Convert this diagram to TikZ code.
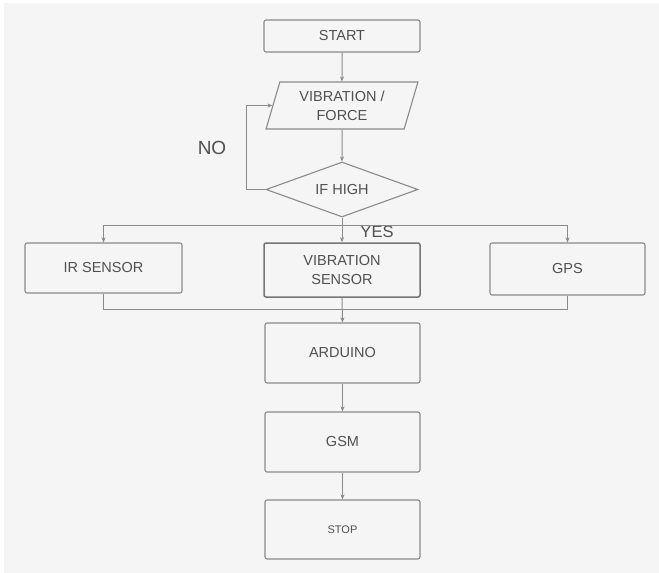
\documentclass[tikz,border=0pt]{standalone}
\usepackage{fontspec}
\setmainfont{Liberation Sans}
\usepackage{tikz}
\usetikzlibrary{arrows.meta,shapes.geometric,positioning}

\definecolor{linegray}{HTML}{8A8A8A}
\definecolor{textgray}{HTML}{505050}
\definecolor{paper}{HTML}{F5F5F5}

\begin{document}
\begin{tikzpicture}[
  x=1pt, y=-1pt,
  every node/.style={font=\fontsize{14.5}{19}\selectfont, text=textgray},
  block/.style={rectangle, draw=linegray, line width=1.1pt, rounded corners=2pt,
    fill=paper, minimum width=155pt, minimum height=58pt, align=center, inner sep=1pt},
  io/.style={trapezium, trapezium left angle=73, trapezium right angle=107,
    trapezium stretches=true, draw=linegray, line width=1.1pt, fill=paper,
    minimum width=152pt, minimum height=47pt, align=center, inner sep=1pt},
  decision/.style={diamond, draw=linegray, line width=1.1pt, fill=paper,
    aspect=2.76, minimum width=152pt, minimum height=55pt, inner sep=0pt},
  edge/.style={draw=linegray, line width=1pt},
  arr/.style={edge, -{Stealth[length=5pt,width=4pt]}}
]

% ------------------------------------------------------------
% Page and margins
% ------------------------------------------------------------
\useasboundingbox (0,0) rectangle (659,573);
\fill[white] (0,0) rectangle (659,573);
\fill[paper] (4,3) rectangle (659,573);

% ------------------------------------------------------------
% Main column: start, input and the test
% ------------------------------------------------------------
\node[block, minimum height=32pt, minimum width=156pt] (start) at (342,36) {START};
\node[io] (input) at (342,105.5) {VIBRATION /\\FORCE};
\node[decision] (cond) at (342,189.5) {IF HIGH};

\node[font=\fontsize{19}{22}\selectfont] (no) at (212,148) {NO};
\node[font=\fontsize{16.5}{20}\selectfont] (yes) at (377,232) {YES};

% ------------------------------------------------------------
% The three sensors
% ------------------------------------------------------------
\node[block, minimum width=157pt, minimum height=50pt] (ir) at (103.5,268) {IR SENSOR};
\node[block, minimum width=156pt, minimum height=54pt, line width=1.5pt, draw=linegray!85!black]
  (vib) at (342,270) {VIBRATION\\SENSOR};
\node[block, minimum height=52pt] (gps) at (567.5,269) {GPS};

\coordinate (split) at (342,225);
\coordinate (merge) at (342,309);

% ------------------------------------------------------------
% Controller, modem and end
% ------------------------------------------------------------
\node[block, minimum height=60pt] (ard) at (342.5,353) {ARDUINO};
\node[block, minimum height=60pt] (gsm) at (342.5,442) {GSM};
\node[block, minimum height=59pt, font=\fontsize{11}{13}\selectfont] (stop) at (342.5,529.5) {STOP};

% ------------------------------------------------------------
% Connectors
% ------------------------------------------------------------
\draw[arr] (start) -- (input);
\draw[arr] (input) -- (cond);
\draw[arr] (cond.west) -- ++(-19,0) |- (input.west);
\draw[arr] (cond.south) -- (vib.north);
\draw[arr] (split) -| (ir.north);
\draw[arr] (split) -| (gps.north);
\draw[edge] (ir.south) |- (merge);
\draw[edge] (gps.south) |- (merge);
\draw[arr] (vib.south) -- (ard.north);
\draw[arr] (ard) -- (gsm);
\draw[arr] (gsm) -- (stop);

\end{tikzpicture}
\end{document}
